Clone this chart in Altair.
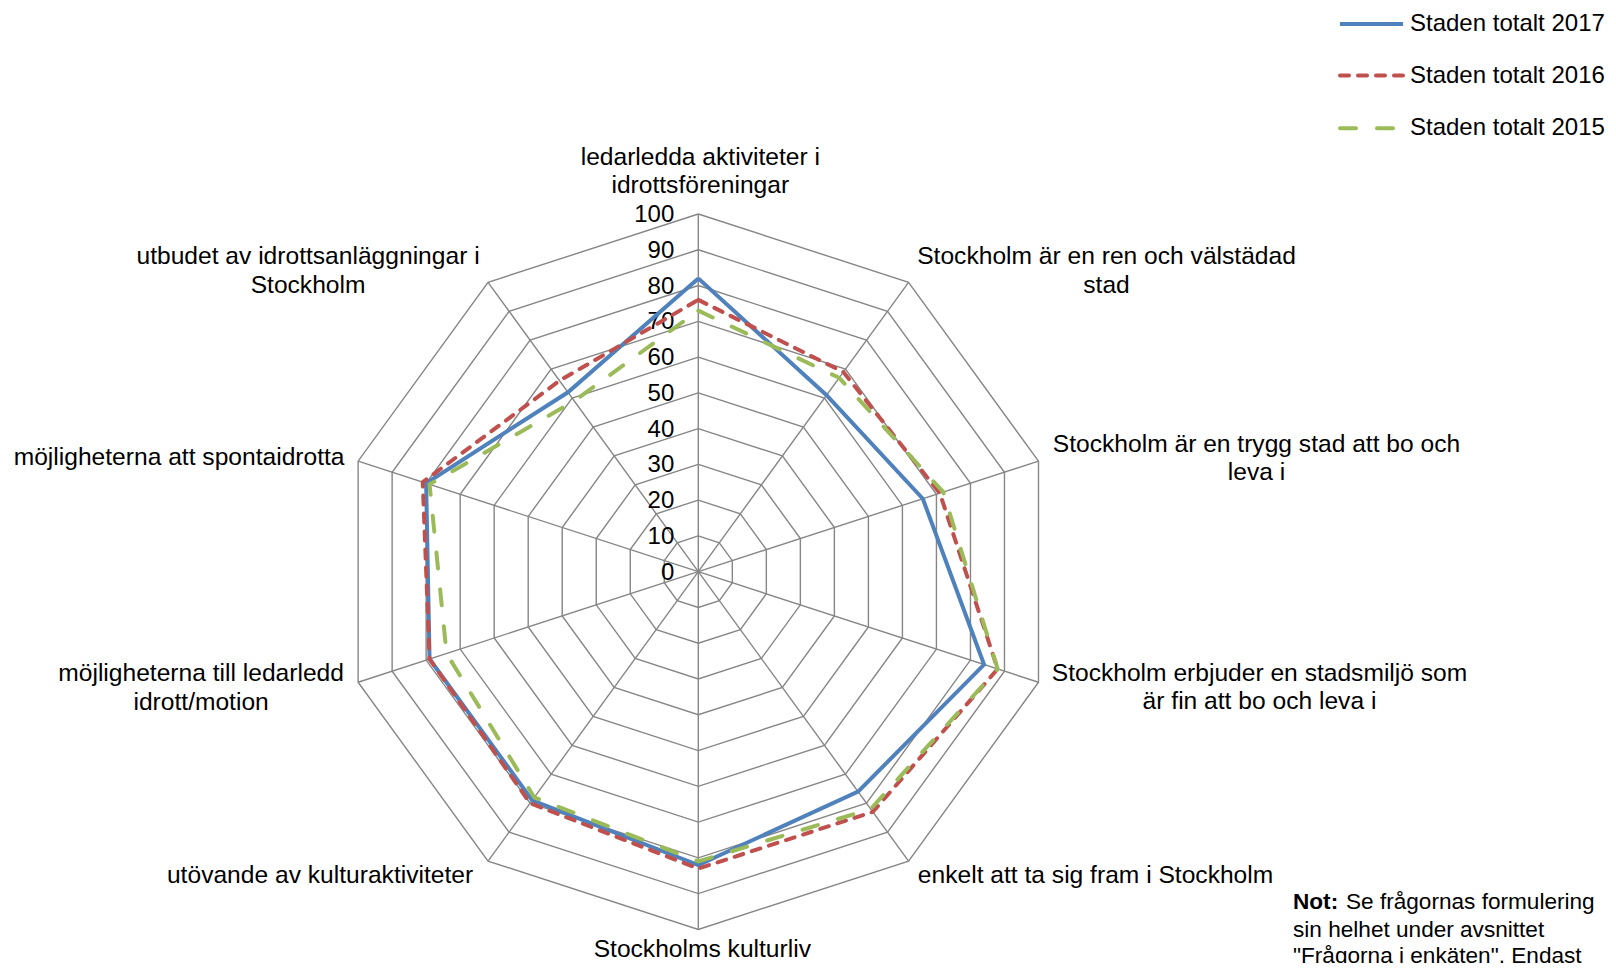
import altair as alt
import pandas as pd

# ---------------- data ----------------
CATEGORIES = [
    "ledarledda aktiviteter i\nidrottsföreningar",
    "Stockholm är en ren och välstädad\nstad",
    "Stockholm är en trygg stad att bo och\nleva i",
    "Stockholm erbjuder en stadsmiljö som\när fin att bo och leva i",
    "enkelt att ta sig fram i Stockholm",
    "Stockholms kulturliv",
    "utövande av kulturaktiviteter",
    "möjligheterna till ledarledd\nidrott/motion",
    "möjligheterna att spontaidrotta",
    "utbudet av idrottsanläggningar i\nStockholm",
]
SERIES = ["Staden totalt 2017", "Staden totalt 2016", "Staden totalt 2015"]
V2017 = [82, 61, 66, 84, 76, 82, 79, 79, 80, 62]
V2016 = [76, 69, 71, 88, 83, 83, 80, 79, 81, 66]
V2015 = [73, 67, 72, 88, 82, 81, 78, 74, 79, 59]
TICKS = [0, 10, 20, 30, 40, 50, 60, 70, 80, 90, 100]
NOTE_BOLD = "Not:"
NOTE_LINES = [
    "Se frågornas formulering",
    "sin helhet under avsnittet",
    "\"Frågorna i enkäten\". Endast",
]

# ---------------- styling / layout ----------------
COLORS = ["#4F81BD", "#C0504D", "#9BBB59"]
DASHES = [None, [9, 9], [16, 21]]
FONT = "Liberation Sans"
N = len(CATEGORIES)
W, H = 1600, 955
PX = 3.577             # pixels per value unit (radius 100 -> ~358 px)
CX, CY = 690.3, 563.7  # centre inside plot area
xs = alt.Scale(domain=[-CX / PX, (W - CX) / PX], nice=False, zero=False)
ys = alt.Scale(domain=[-(H - CY) / PX, CY / PX], nice=False, zero=False)

def X(f):
    return alt.X(f, type="quantitative", scale=xs, axis=None)

def Y(f):
    return alt.Y(f, type="quantitative", scale=ys, axis=None)

ANG = "datum.idx * 2 * PI / %d" % N

# ---------------- grid ----------------
rings = pd.DataFrame(
    [{"level": lv, "idx": i} for lv in TICKS[1:] for i in range(N + 1)]
)
ring_layer = (
    alt.Chart(rings)
    .transform_calculate(
        x="datum.level * sin(%s)" % ANG, y="datum.level * cos(%s)" % ANG
    )
    .mark_line(color="#868686", strokeWidth=1.4)
    .encode(x=X("x"), y=Y("y"), detail="level:N", order="idx:Q")
)

spokes = pd.DataFrame({"idx": list(range(N)), "level": [TICKS[-1]] * N})
spoke_layer = (
    alt.Chart(spokes)
    .transform_calculate(
        x0="0", y0="0",
        x="datum.level * sin(%s)" % ANG, y="datum.level * cos(%s)" % ANG,
    )
    .mark_rule(color="#868686", strokeWidth=1.4)
    .encode(x=X("x0"), y=Y("y0"), x2="x:Q", y2="y:Q")
)

# tick labels
tick_df = pd.DataFrame({"level": TICKS, "label": [str(t) for t in TICKS]})
tick_layer = (
    alt.Chart(tick_df)
    .transform_calculate(x0="0")
    .mark_text(align="right", baseline="middle", dx=-24, dy=1,
               fontSize=24, font=FONT, color="#000000")
    .encode(x=X("x0"), y=Y("level"), text="label:N")
)

# ---------------- series ----------------
series_layers = []
for name, vals, col, dash in zip(SERIES, [V2017, V2016, V2015], COLORS, DASHES):
    df = pd.DataFrame({"idx": list(range(N + 1)), "value": vals + [vals[0]]})
    kw = dict(color=col, strokeWidth=4, strokeJoin="miter")
    if dash:
        kw["strokeDash"] = dash
        kw["strokeCap"] = "round"
    series_layers.append(
        alt.Chart(df)
        .transform_calculate(
            x="datum.value * sin(%s)" % ANG, y="datum.value * cos(%s)" % ANG
        )
        .mark_line(**kw)
        .encode(x=X("x"), y=Y("y"), order="idx:Q")
    )

# ---------------- category labels ----------------
LINE_H = 28.5
LABEL_OFFSETS = [
    (2, -42), (198, -11), (218, -2), (221, 6), (187, 15),
    (4, 21), (-168, 15), (-157, 6.5), (-179, -3), (-180, -11),
]
label_layers = []
for i, (lab, (dx, dy)) in enumerate(zip(CATEGORIES, LABEL_OFFSETS)):
    nlines = lab.count("\n") + 1
    df = pd.DataFrame({"idx": [i], "level": [TICKS[-1]], "label": [lab]})
    label_layers.append(
        alt.Chart(df)
        .transform_calculate(
            x="datum.level * sin(%s)" % ANG, y="datum.level * cos(%s)" % ANG
        )
        .mark_text(align="center", baseline="middle", lineBreak="\n",
                   lineHeight=LINE_H, dx=dx,
                   dy=dy - (nlines - 1) * LINE_H / 2,
                   fontSize=24.6, font=FONT, color="#000000")
        .encode(x=X("x"), y=Y("y"), text="label:N")
    )

# ---------------- legend ----------------
LEG_Y = [16.0, 67.5, 120.2]
legend_layers = []
for name, col, dash, ly in zip(SERIES, COLORS, DASHES, LEG_Y):
    kw = dict(color=col, strokeWidth=4)
    if dash:
        kw["strokeDash"] = dash
        kw["strokeCap"] = "round"
    legend_layers.append(
        alt.Chart(pd.DataFrame({"s": [name]}))
        .mark_rule(**kw)
        .encode(x=alt.value(1332), x2=alt.value(1395), y=alt.value(ly))
    )
    legend_layers.append(
        alt.Chart(pd.DataFrame({"s": [name]}))
        .mark_text(align="left", baseline="middle", fontSize=24, font=FONT,
                   color="#000000")
        .encode(x=alt.value(1402), y=alt.value(ly), text="s:N")
    )

# ---------------- note ----------------
NOTE_X = [1338, 1285, 1285]
NOTE_Y = [894, 921.5, 948]
note_layers = [
    alt.Chart(pd.DataFrame({"t": [NOTE_BOLD]}))
    .mark_text(align="left", baseline="middle", fontSize=22.6, font=FONT,
               fontWeight="bold", color="#000000")
    .encode(x=alt.value(1285), y=alt.value(NOTE_Y[0]), text="t:N")
]
for t, nx, ny in zip(NOTE_LINES, NOTE_X, NOTE_Y):
    note_layers.append(
        alt.Chart(pd.DataFrame({"t": [t]}))
        .mark_text(align="left", baseline="middle", fontSize=22.6, font=FONT,
                   color="#000000")
        .encode(x=alt.value(nx), y=alt.value(ny), text="t:N")
    )

chart = (
    alt.layer(
        ring_layer, spoke_layer, tick_layer, *series_layers, *label_layers,
        *legend_layers, *note_layers
    )
    .properties(width=W, height=H, autosize=alt.AutoSizeParams(type="none"),
                padding=0, background="#ffffff")
    .configure_view(stroke=None, strokeWidth=0)
)

chart.save("out.html", embed_options={"renderer": "svg", "actions": False})
